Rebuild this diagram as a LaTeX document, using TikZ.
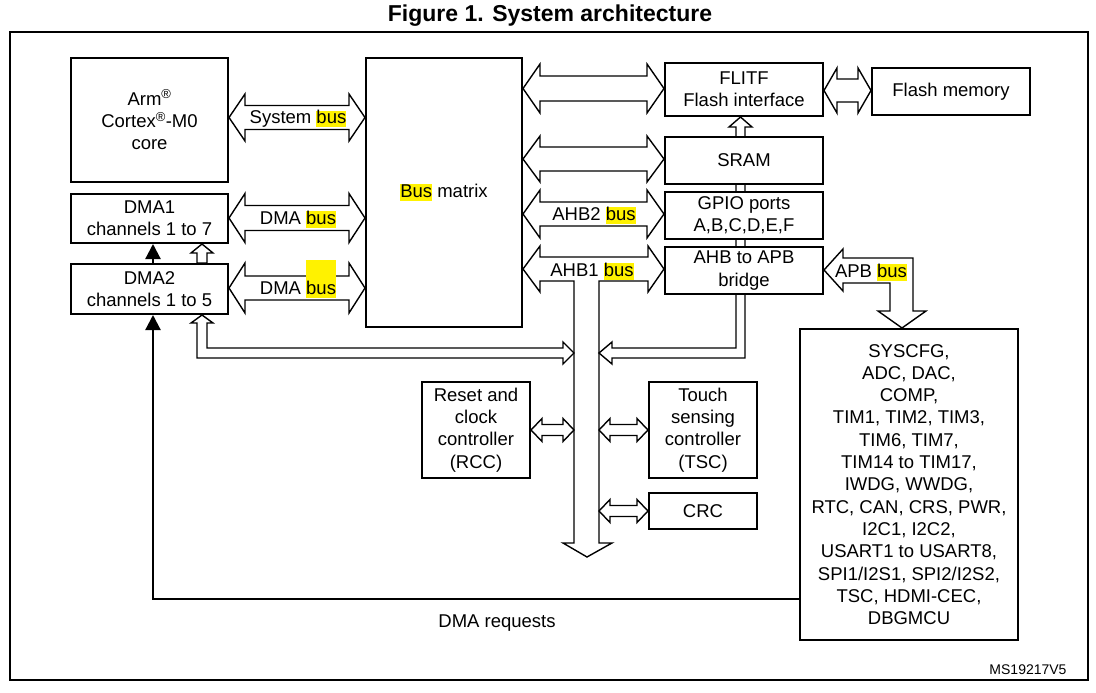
\documentclass[tikz,border=0pt]{standalone}
\usepackage{fontspec}
\setmainfont{Liberation Sans}
\usetikzlibrary{arrows.meta,backgrounds,calc}
\newcommand\figfont{\fontsize{18.5}{22.3}\selectfont}
\newcommand\hlb[1]{{\setlength{\fboxsep}{0pt}\colorbox{yellow}{\rule[-3.5pt]{0pt}{16.5pt}#1}}}
\newcommand\hlbtall[1]{{\setlength{\fboxsep}{0pt}\colorbox{yellow}{\rule[-3.5pt]{0pt}{38pt}#1}}}
% #1 left tip, #2 right tip, #3 half head height, #4 half shaft height, #5 head length
\newcommand\hbusarrow[5]{%
  \draw[hbus] let \p1=(#1), \p2=(#2) in
   (\x1,\y1) -- ({\x1+#5pt},{\y1+#3pt}) -- ({\x1+#5pt},{\y1+#4pt})
   -- ({\x2-#5pt},{\y1+#4pt}) -- ({\x2-#5pt},{\y1+#3pt}) -- (\x2,\y1)
   -- ({\x2-#5pt},{\y1-#3pt}) -- ({\x2-#5pt},{\y1-#4pt})
   -- ({\x1+#5pt},{\y1-#4pt}) -- ({\x1+#5pt},{\y1-#3pt}) -- cycle;}
\tikzset{
  blk/.style={draw, line width=2pt, fill=white, align=center, inner sep=0pt,
    anchor=north west, font=\figfont},
  hbus/.style={draw, line width=1.4pt, fill=white, line join=miter},
  lbl/.style={font=\figfont, inner sep=0pt, anchor=base},
  req/.style={line width=2.2pt, -{Triangle[length=15pt,width=15pt]}},
}
\begin{document}
\begin{tikzpicture}[x=1pt,y=-1pt]
\useasboundingbox (0,0) rectangle (1096,693);
\begin{pgfonlayer}{background}
  \fill[white] (0,0) rectangle (1096,693);
\end{pgfonlayer}

% title and frame
\node[font=\bfseries\fontsize{23}{26}\selectfont, anchor=base, inner sep=0pt] (title) at (550,22) {Figure 1. System architecture};
\draw[line width=2.6pt] (10,32) rectangle (1088,680);
\node[font=\fontsize{14}{16}\selectfont, anchor=base, inner sep=0pt] (ms) at (1028,674) {MS19217V5};

% blocks
\node[blk, minimum width=157pt, minimum height=124pt] (cpu) at (70,57)
  {Arm\textsuperscript{®}\\Cortex\textsuperscript{®}-M0\\core};
\node[blk, minimum width=157pt, minimum height=49pt] (dma1) at (70,193)
  {DMA1\\channels 1 to 7};
\node[blk, minimum width=157pt, minimum height=50pt] (dma2) at (70,263)
  {DMA2\\channels 1 to 5};
\node[blk, minimum width=156pt, minimum height=269pt] (bm) at (365,57)
  {\hlb{Bus} matrix};
\node[blk, minimum width=158pt, minimum height=53pt] (flitf) at (664,62)
  {FLITF\\Flash interface};
\node[blk, minimum width=158pt, minimum height=47pt] (sram) at (664,136) {SRAM};
\node[blk, minimum width=158pt, minimum height=47pt] (gpio) at (664,191)
  {GPIO ports\\A,B,C,D,E,F};
\node[blk, minimum width=158pt, minimum height=47pt] (brg) at (664,246)
  {AHB to APB\\bridge};
\node[blk, minimum width=158pt, minimum height=47pt] (flash) at (871,67) {Flash memory};
\node[blk, minimum width=108pt, minimum height=96pt] (rcc) at (421,381)
  {Reset and\\clock\\controller\\(RCC)};
\node[blk, minimum width=108pt, minimum height=96pt] (tsc) at (648,381)
  {Touch\\sensing\\controller\\(TSC)};
\node[blk, minimum width=108pt, minimum height=36pt] (crc) at (648,492) {CRC};
\node[blk, minimum width=218pt, minimum height=311pt] (per) at (799,328)
  {SYSCFG,\\ADC, DAC,\\COMP,\\TIM1, TIM2, TIM3,\\TIM6, TIM7,\\TIM14 to TIM17,\\IWDG, WWDG,\\RTC, CAN, CRS, PWR,\\I2C1, I2C2,\\USART1 to USART8,\\SPI1/I2S1, SPI2/I2S2,\\TSC, HDMI-CEC,\\DBGMCU};

\coordinate (busL) at (574,281);
\coordinate (busR) at (599,281);
\coordinate (busEnd) at (0,543);
\coordinate (busTip) at (587,557);

\begin{pgfonlayer}{background}
  % buses to the bus matrix
  \hbusarrow{cpu.east |- 0,117.5}{bm.west |- 0,117.5}{23.5}{12}{16}
  \hbusarrow{dma1.east |- 0,218}{bm.west |- 0,218}{24.5}{12.5}{16}
  \hbusarrow{dma2.east |- 0,288}{bm.west |- 0,288}{25}{12}{16}
  \hbusarrow{bm.east |- 0,88.5}{flitf.west |- 0,88.5}{24.5}{12.5}{17}
  \hbusarrow{bm.east |- 0,159}{sram.west |- 0,159}{23}{12}{17}
  \hbusarrow{bm.east |- 0,214}{gpio.west |- 0,214}{24}{12}{17}
  \hbusarrow{flitf.east |- 0,90.5}{flash.west |- 0,90.5}{22.5}{11.5}{13}
  % AHB1 bus with vertical branch
  \draw[hbus] let \p1=(bm.east |- 0,269), \p2=(brg.west |- 0,269) in
    (\x1,\y1) -- ({\x1+17pt},{\y1+23pt}) -- ({\x1+17pt},{\y1+12pt})
    -- ({\x2-16pt},{\y1+12pt}) -- ({\x2-16pt},{\y1+23pt}) -- (\x2,\y1)
    -- ({\x2-16pt},{\y1-23pt}) -- ({\x2-16pt},{\y1-12pt})
    -- (busR) -- (busR |- busEnd) -- ($(busR |- busEnd)+(13pt,0)$) -- (busTip)
    -- ($(busL |- busEnd)+(-11pt,0)$) -- (busL |- busEnd) -- (busL)
    -- ({\x1+17pt},{\y1-12pt}) -- ({\x1+17pt},{\y1-23pt}) -- cycle;
  % peripherals on AHB1
  \hbusarrow{rcc.east}{busL |- rcc.east}{11.5}{5.5}{11}
  \hbusarrow{busR |- tsc.west}{tsc.west}{11.5}{5.5}{11}
  \hbusarrow{busR |- crc.west}{crc.west}{11.5}{5.5}{11}
  % DMA2 to AHB1
  \draw[hbus] (dma2.south -| 202,0) -- (213,323) -- (207,323) -- (207,348)
    -- (563,348) -- (563,342) -- (busL |- 0,353) -- (563,364) -- (563,358)
    -- (197,358) -- (197,323) -- (191,323) -- cycle;
  % DMA2 to DMA1
  \draw[hbus] (dma1.south -| 202,0) -- (213,253) -- (207,253) -- (dma2.north -| 207,0)
    -- (dma2.north -| 197,0) -- (197,253) -- (191,253) -- cycle;
  % bridge / FLITF to AHB1
  \draw[hbus] (busR |- 0,353) -- (612,342) -- (612,348) -- (736,348) -- (736,127)
    -- (729,127) -- (flitf.south -| 740.5,0) -- (752,127) -- (745,127) -- (745,358)
    -- (612,358) -- (612,364) -- cycle;
  % APB bus
  \draw[hbus] (brg.east |- 0,270) -- (843,249) -- (843,258) -- (913,258) -- (913,311)
    -- (926,311) -- (per.north -| 902,0) -- (878,311) -- (890,311) -- (890,283)
    -- (843,283) -- (843,291) -- cycle;
\end{pgfonlayer}

% bus labels
\node[lbl] (lsys) at (298,124) {System \hlb{bus}};
\node[lbl] (ldma1) at (298,224.5) {DMA \hlb{bus}};
\node[lbl] (ldma2) at (298,294.5) {DMA \hlbtall{bus}};
\node[lbl] (lahb2) at (594,220.5) {AHB2 \hlb{bus}};
\node[lbl] (lahb1) at (592,276) {AHB1 \hlb{bus}};
\node[lbl] (lapb) at (871,277) {APB \hlb{bus}};

% DMA request lines
\draw[req] (dma2.north -| 153,0) -- (dma1.south -| 153,0);
\draw[req] (per.west |- 0,599) -| (dma2.south -| 153,0);
\node[lbl] (lreq) at (497,627) {DMA requests};
\end{tikzpicture}
\end{document}
